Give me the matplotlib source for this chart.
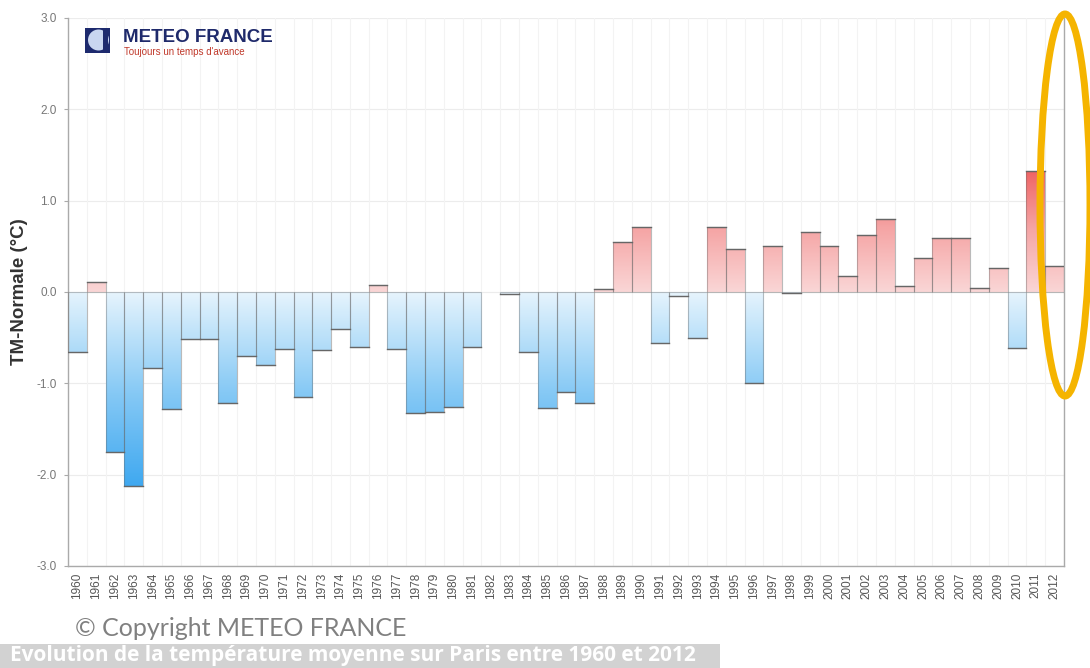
import numpy as np
import matplotlib
matplotlib.use("Agg")
import matplotlib.pyplot as plt
from matplotlib.patches import Rectangle, Ellipse, Circle
from matplotlib.colors import LinearSegmentedColormap

# Ecarts a la normale, Paris 1960-2012
years = list(range(1960, 2013))
anomalies = [
    -0.66, 0.11, -1.75, -2.12, -0.83, -1.28, -0.51, -0.52, -1.22, -0.70,
    -0.80, -0.62, -1.15, -0.64, -0.40, -0.60, 0.08, -0.62, -1.32, -1.31,
    -1.26, -0.60, np.nan, -0.02, -0.66, -1.27, -1.10, -1.21, 0.03, 0.55,
    0.71, -0.56, -0.04, -0.50, 0.71, 0.47, -1.00, 0.50, -0.01, 0.66,
    0.50, 0.17, 0.62, 0.80, 0.07, 0.37, 0.59, 0.59, 0.04, 0.26,
    -0.61, 1.32, 0.29,
]
y_ticks = [3.0, 2.0, 1.0, 0.0, -1.0, -2.0, -3.0]

blue_cmap = LinearSegmentedColormap.from_list("bleu", ["#3aa6f0", "#86c9f5", "#e6f4fd"])
red_cmap = LinearSegmentedColormap.from_list("rouge", ["#fad6d6", "#f5a4a4", "#ee5c5c"])

fig = plt.figure(figsize=(10.9, 6.68), dpi=100)
ax = fig.add_axes([68 / 1090, 102 / 668, (1064 - 68) / 1090, (566 - 18) / 668])

# grille
for y in y_ticks:
    ax.axhline(y, color="#ececec", lw=0.8, zorder=0)
for i in range(len(years) + 1):
    ax.axvline(i, color="#f3f3f3", lw=0.8, zorder=0)

# barres avec degrade
grad = np.linspace(0, 1, 256).reshape(-1, 1)
for i, v in enumerate(anomalies):
    if np.isnan(v):
        continue
    if v < 0:
        img = ax.imshow(grad, cmap=blue_cmap, aspect="auto", origin="lower",
                        extent=[i, i + 1, -2.2, 0], zorder=2)
    else:
        img = ax.imshow(grad, cmap=red_cmap, aspect="auto", origin="lower",
                        extent=[i, i + 1, 0, 1.4], zorder=2)
    rect = Rectangle((i, 0), 1, v, facecolor="none",
                     edgecolor=(0.4, 0.4, 0.4, 0.4), lw=0.8, zorder=3)
    ax.add_patch(rect)
    img.set_clip_path(rect)
    # trait fonce a l'extremite de la barre
    ax.plot([i, i + 1], [v, v], color="#666666", lw=1.0, zorder=4)

ax.set_xlim(0, len(years))
ax.set_ylim(-3.0, 3.0)
ax.set_xticks(np.arange(len(years)) + 0.5)
ax.set_xticklabels([str(y) for y in years], rotation=90, fontsize=8.5,
                   color="#555555", family="Liberation Sans")
ax.set_yticks(y_ticks)
ax.set_yticklabels(["%.1f" % y for y in y_ticks], fontsize=8.5, color="#777777",
                   family="Liberation Sans")
ax.tick_params(axis="x", length=0, pad=5)
ax.tick_params(axis="y", length=3, color="#aaaaaa", pad=5)
ax.set_ylabel("TM-Normale (°C)", fontsize=13.5, fontweight="bold", color="#333333",
              family="Liberation Sans", labelpad=6)

for side in ["left", "bottom", "right"]:
    ax.spines[side].set_color("#aaaaaa")
    ax.spines[side].set_linewidth(1.0)
ax.spines["top"].set_visible(False)

# logo
to_in = fig.dpi_scale_trans
fig.patches.append(Rectangle((85 / 100, (668 - 53) / 100), 0.25, 0.25, transform=to_in,
                             facecolor="#1d2a6e", edgecolor="none"))
fig.patches.append(Circle((0.985, (668 - 40) / 100), 0.105, transform=to_in,
                          facecolor="#c9d6f0", edgecolor="none"))
fig.patches.append(Rectangle((1.03, (668 - 53) / 100), 0.05, 0.25, transform=to_in,
                             facecolor="#1d2a6e", edgecolor="none"))
fig.text(123 / 1090, 1 - 37 / 668, "METEO FRANCE", fontsize=13.5, fontweight="bold",
         color="#1f2a6b", family="Liberation Sans", va="center")
fig.text(124 / 1090, 1 - 52 / 668, "Toujours un temps d'avance", fontsize=7,
         color="#c0392b", family="Liberation Sans", va="center")

# ellipse jaune
fig.patches.append(Ellipse((10.65, 4.63), 0.50, 3.82, transform=to_in,
                           facecolor="none", edgecolor="#f5b400", lw=5))

# copyright et legende
fig.text(75 / 1090, 1 - 629 / 668, "© Copyright METEO FRANCE", fontsize=18,
         color="#808080", family="Lato", va="center")
fig.patches.append(Rectangle((0, 0), 7.2, 0.245, transform=to_in,
                             facecolor="#d2d2d2", edgecolor="none"))
fig.text(10 / 1090, 12 / 668, "Evolution de la température moyenne sur Paris entre 1960 et 2012",
         fontsize=15, fontweight="bold", color="white", family="Open Sans", va="center")

fig.savefig("out.png", dpi=100)
